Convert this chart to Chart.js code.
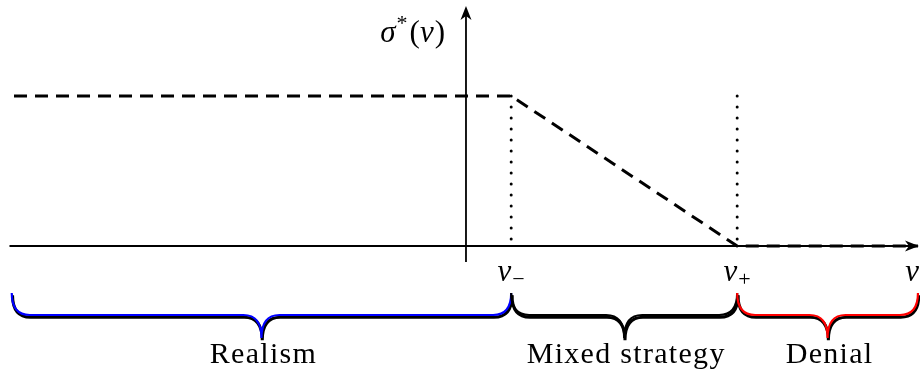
<!DOCTYPE html>
<html>
<head>
<meta charset="utf-8">
<script src="https://cdn.jsdelivr.net/npm/chart.js@4.4.1/dist/chart.umd.min.js"></script>
<style>
  html, body { margin: 0; padding: 0; background: #fff; }
  #wrap { width: 920px; height: 372px; }
</style>
</head>
<body>
<div id="wrap"><canvas id="myChart" width="920" height="372"></canvas></div>
<script>
// value of the equilibrium strategy along v
const levelX = [-2.0, 0.2, 1.2, 2.0];
const levelY = [1, 1, 0, 0];

// thresholds v- and v+
const thresholdX = [0.2, 1.2];
const thresholdTop = 1;

// labels under the horizontal axis
const tickX = [0.2, 1.2, 2.0];
const tickMain = ['v', 'v', 'v'];
const tickSub = ['\u2212', '+', ''];

// the three regions marked by braces
const regionNames = ['Realism', 'Mixed strategy', 'Denial'];
const regionFrom = [-2.01, 0.2, 1.2];
const regionTo = [0.2, 1.2, 2.0];

// axis extents
const xAxisFrom = -2.02, xAxisTo = 2.0;
const yAxisFrom = -0.107, yAxisTo = 1.6;

const SERIF = '"Liberation Serif", "DejaVu Serif", serif';
const regionColors = ['#0000ff', '#000000', '#ff0000'];

function drawParts(ctx, parts, x, y, align) {
  let total = 0;
  parts.forEach(p => { ctx.font = p.font; total += ctx.measureText(p.t).width + (p.gap || 0); });
  let cx = align === 'right' ? x - total : align === 'center' ? x - total / 2 : x;
  ctx.textAlign = 'left';
  ctx.textBaseline = 'alphabetic';
  parts.forEach(p => {
    ctx.font = p.font;
    ctx.fillText(p.t, cx, y + (p.dy || 0));
    cx += ctx.measureText(p.t).width + (p.gap || 0);
  });
}

function arrowHead(ctx, tx, ty, dx, dy) {
  const len = 14, hw = 5.5, inset = 4;
  const px = -dy, py = dx;
  ctx.beginPath();
  ctx.moveTo(tx, ty);
  ctx.lineTo(tx - dx * len + px * hw, ty - dy * len + py * hw);
  ctx.lineTo(tx - dx * (len - inset), ty - dy * (len - inset));
  ctx.lineTo(tx - dx * len - px * hw, ty - dy * len - py * hw);
  ctx.closePath();
  ctx.fill();
}

function bracePath(ctx, x0, x1, y0, y1, y2) {
  const r = 18;
  const m = (x0 + x1) / 2;
  ctx.beginPath();
  ctx.moveTo(x0, y0);
  ctx.quadraticCurveTo(x0, y1, x0 + r, y1);
  ctx.lineTo(m - r, y1);
  ctx.quadraticCurveTo(m, y1, m, y2);
  ctx.quadraticCurveTo(m, y1, m + r, y1);
  ctx.lineTo(x1 - r, y1);
  ctx.quadraticCurveTo(x1, y1, x1, y0);
}

const axesPlugin = {
  id: 'axes',
  beforeDatasetsDraw(chart) {
    const ctx = chart.ctx, xs = chart.scales.x, ys = chart.scales.y;
    const x0 = xs.getPixelForValue(0), y0 = ys.getPixelForValue(0);
    ctx.save();
    ctx.strokeStyle = '#000';
    ctx.fillStyle = '#000';
    ctx.lineWidth = 1.8;
    // horizontal axis
    const xe = xs.getPixelForValue(xAxisTo) + 1;
    ctx.beginPath();
    ctx.moveTo(xs.getPixelForValue(xAxisFrom), y0);
    ctx.lineTo(xe - 6, y0);
    ctx.stroke();
    arrowHead(ctx, xe, y0, 1, 0);
    // vertical axis
    const ye = ys.getPixelForValue(yAxisTo);
    ctx.beginPath();
    ctx.moveTo(x0, ys.getPixelForValue(yAxisFrom));
    ctx.lineTo(x0, ye + 6);
    ctx.stroke();
    arrowHead(ctx, x0, ye, 0, -1);
    ctx.restore();
  },
  afterDatasetsDraw(chart) {
    const ctx = chart.ctx, xs = chart.scales.x, ys = chart.scales.y;
    const x0 = xs.getPixelForValue(0), y0 = ys.getPixelForValue(0);
    const big = 'italic 31px ' + SERIF, rom = '31px ' + SERIF, small = '22px ' + SERIF;
    ctx.save();
    ctx.fillStyle = '#000';
    // y label
    drawParts(ctx, [
      { t: '\u03c3', font: big, gap: 1 },
      { t: '*', font: small, dy: -12, gap: 2 },
      { t: '(', font: rom },
      { t: 'v', font: big, gap: 1 },
      { t: ')', font: rom }
    ], x0 - 21, ys.getPixelForValue(1.36), 'right');
    // tick labels
    tickX.forEach((v, i) => {
      const parts = [{ t: tickMain[i], font: big, gap: 1 }];
      if (tickSub[i]) parts.push({ t: tickSub[i], font: small, dy: 5 });
      const px = xs.getPixelForValue(v);
      if (i === tickX.length - 1) drawParts(ctx, parts, px + 2, y0 + 35, 'right');
      else drawParts(ctx, parts, px, y0 + 35, 'center');
    });
    // braces
    const b0 = y0 + 47, b1 = y0 + 69, b2 = y0 + 92;
    regionNames.forEach((name, i) => {
      const a = xs.getPixelForValue(regionFrom[i]);
      const b = xs.getPixelForValue(regionTo[i]);
      ctx.save();
      ctx.translate(0.8, 2.2);
      bracePath(ctx, a, b, b0, b1, b2);
      ctx.strokeStyle = '#000';
      ctx.lineWidth = 3;
      ctx.stroke();
      ctx.restore();
      bracePath(ctx, a, b, b0, b1, b2);
      ctx.strokeStyle = regionColors[i];
      ctx.lineWidth = 2.2;
      ctx.stroke();
      ctx.fillStyle = '#000';
      ctx.font = '30px ' + SERIF;
      ctx.letterSpacing = '1.3px';
      ctx.textAlign = 'center';
      ctx.fillText(name, (a + b) / 2 + 2, y0 + 117);
      ctx.letterSpacing = '0px';
    });
    ctx.restore();
  }
};

const ctx = document.getElementById('myChart').getContext('2d');
const chart = new Chart(ctx, {
  type: 'scatter',
  data: {
    datasets: [
      {
        data: levelX.map((x, i) => ({ x: x, y: levelY[i] })),
        showLine: true,
        borderColor: '#000',
        borderWidth: 3,
        borderDash: [13, 8],
        borderCapStyle: 'butt',
        pointRadius: 0,
        tension: 0
      },
      ...thresholdX.map(t => ({
        data: [{ x: t, y: thresholdTop }, { x: t, y: 0 }],
        showLine: true,
        borderColor: '#000',
        borderWidth: 3,
        borderDash: [0, 11],
        borderCapStyle: 'round',
        pointRadius: 0
      }))
    ]
  },
  options: {
    responsive: false,
    animation: false,
    layout: { padding: 0 },
    plugins: { legend: { display: false }, tooltip: { enabled: false } },
    scales: {
      x: { type: 'linear', min: -2.062, max: 2.009, display: false },
      y: { type: 'linear', min: -0.84, max: 1.64, display: false }
    }
  },
  plugins: [axesPlugin]
});
</script>
</body>
</html>
